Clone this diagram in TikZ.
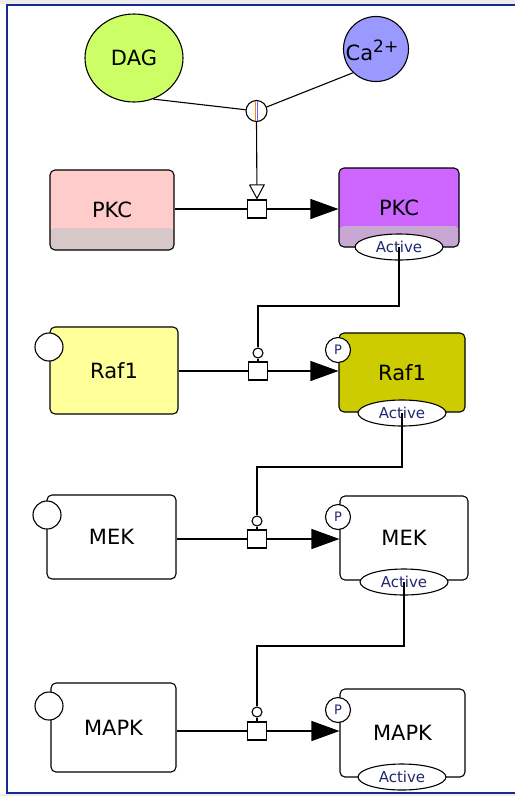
\documentclass[tikz,border=0pt]{standalone}
\usepackage{fontspec}
\setmainfont{DejaVu Sans}
\usetikzlibrary{arrows.meta,shapes.geometric}
\definecolor{frameblue}{RGB}{22,42,150}
\definecolor{dagc}{HTML}{CCFF66}
\definecolor{cac}{HTML}{9999FF}
\definecolor{pkcl}{HTML}{FFCCCC}
\definecolor{pkclb}{HTML}{D6C8C8}
\definecolor{pkcr}{HTML}{CC66FF}
\definecolor{pkcrb}{HTML}{C8A8D2}
\definecolor{rafl}{HTML}{FFFF99}
\definecolor{rafr}{HTML}{CCCC00}
\definecolor{navy}{RGB}{30,40,110}
\begin{document}
\begin{tikzpicture}[x=1pt,y=-1pt,line width=1.1pt,
  mol/.style={draw, rounded corners=5pt, inner sep=0pt, font=\fontsize{21}{23}\selectfont},
  band/.style 2 args={path picture={\fill[#1] ([yshift=#2]path picture bounding box.south west) rectangle (path picture bounding box.south east);}},
  stv/.style={circle, draw, fill=white, minimum size=28pt, inner sep=0pt},
  pst/.style={circle, draw, fill=white, minimum size=25pt, inner sep=0pt, text=navy, font=\fontsize{13}{13}\selectfont},
  act/.style={ellipse, draw, fill=white, minimum width=88pt, minimum height=26pt, inner sep=0pt, text=navy, font=\fontsize{15}{15}\selectfont},
  proc/.style={rectangle, draw, fill=white, minimum width=19pt, minimum height=18pt, inner sep=0pt},
  catc/.style={circle, draw, fill=white, minimum size=10pt, inner sep=0pt},
  conv/.style={-{Triangle[length=28pt,width=20pt]}},
  stim/.style={-{Triangle[open,length=15pt,width=16pt,line width=1pt]}}
]
\useasboundingbox (0,0) rectangle (515,796);
\fill[white] (0,0) rectangle (515,796);
\fill[black!7] (0,0) rectangle (515,3.6);
\fill[black!7] (0,794.4) rectangle (515,796);
\draw[frameblue, line width=2.6pt] (515,5) -- (7,5) -- (7,793) -- (515,793);

% top species
\node[ellipse, draw, fill=dagc, minimum width=98pt, minimum height=88pt, inner sep=0pt, font=\fontsize{21}{23}\selectfont] (dag) at (134,58) {DAG};
\node[circle, draw, fill=cac, minimum size=65pt, inner sep=0pt] (ca) at (376,49) {};
\node[inner sep=0pt, font=\fontsize{21}{23}\selectfont] (catext) at (372,50) {Ca\raisebox{8pt}{\fontsize{17}{17}\selectfont 2+}};
\node[circle, draw, fill=white, minimum size=21pt, inner sep=0pt] (jn) at (256.5,111) {};
\draw[orange, line width=0.8pt] ([xshift=-1pt,yshift=-1pt]jn.north) -- ([xshift=-1pt,yshift=1pt]jn.south);
\draw[blue!60, line width=0.8pt] ([xshift=1pt,yshift=-1pt]jn.north) -- ([xshift=1pt,yshift=1pt]jn.south);
\draw (dag.-65) -- (jn);
\draw (ca.226) -- (jn);

% row 1: PKC
\node[mol, fill=pkcl, band={pkclb}{22pt}, minimum width=124pt, minimum height=80pt] (pkcL) at (112,210) {PKC};
\node[mol, fill=pkcr, band={pkcrb}{21pt}, minimum width=120pt, minimum height=79pt] (pkcR) at (399,207.5) {PKC};
\node[act] (act1) at (399,247) {Active};
\node[proc] (sq1) at (257,209) {};
\draw (pkcL.east |- sq1) -- (sq1.west);
\draw[conv] (sq1.east) -- (sq1.east -| pkcR.west);
\draw[stim] (jn.south) -- (sq1.north);

% row 2: Raf1
\node[mol, fill=rafl, minimum width=128pt, minimum height=87pt] (rafL) at (114,370.5) {Raf1};
\node[stv] (svraf) at (49,347) {};
\node[mol, fill=rafr, minimum width=126pt, minimum height=79pt] (rafR) at (402,372.5) {Raf1};
\node[pst] (praf) at (338,350) {P};
\node[act] (act2) at (402,413) {Active};
\node[proc] (sq2) at (258,371) {};
\node[catc] (cat1) at (258,353) {};
\draw (rafL.east |- sq2) -- (sq2.west);
\draw[conv] (sq2.east) -- (sq2.east -| rafR.west);
\draw (cat1) -- (sq2);
\coordinate (k1) at (399,306);
\draw (act1.center) -- (act1.center |- k1) -| (cat1.north);

% row 3: MEK
\node[mol, minimum width=129pt, minimum height=84pt] (mekL) at (111.5,537) {MEK};
\node[stv] (svmek) at (47,515) {};
\node[mol, minimum width=128pt, minimum height=84pt] (mekR) at (404,538) {MEK};
\node[pst] (pmek) at (338,517) {P};
\node[act] (act3) at (404,582) {Active};
\node[proc] (sq3) at (257,539) {};
\node[catc] (cat2) at (257,521) {};
\draw (mekL.east |- sq3) -- (sq3.west);
\draw[conv] (sq3.east) -- (sq3.east -| mekR.west);
\draw (cat2) -- (sq3);
\coordinate (k2) at (402,467);
\draw (act2.center) -- (act2.center |- k2) -| (cat2.north);

% row 4: MAPK
\node[mol, minimum width=125pt, minimum height=89pt] (mapkL) at (113.5,727.5) {MAPK};
\node[stv] (svmapk) at (49,706) {};
\node[mol, minimum width=125pt, minimum height=88pt] (mapkR) at (402.5,733) {MAPK};
\node[pst] (pmapk) at (338,710) {P};
\node[act] (act4) at (402,777) {Active};
\node[proc] (sq4) at (257,731) {};
\node[catc] (cat3) at (257,712) {};
\draw (mapkL.east |- sq4) -- (sq4.west);
\draw[conv] (sq4.east) -- (sq4.east -| mapkR.west);
\draw (cat3) -- (sq4);
\coordinate (k3) at (404,646);
\draw (act3.center) -- (act3.center |- k3) -| (cat3.north);
\end{tikzpicture}
\end{document}
